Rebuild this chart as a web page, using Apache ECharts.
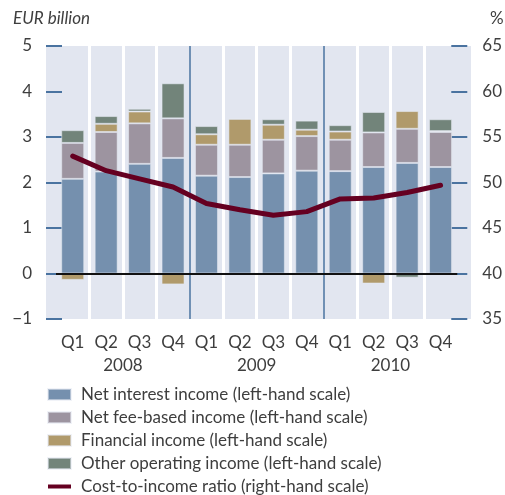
<!DOCTYPE html>
<html>
<head>
<meta charset="utf-8">
<script src="https://cdn.jsdelivr.net/npm/echarts@6/dist/echarts.min.js"></script>
<style>
  html, body { margin: 0; padding: 0; background: #fff; }
  #chart { width: 505px; height: 495px; }
</style>
</head>
<body>
<div id="chart"></div>
<script>
const quarters = ['Q1', 'Q2', 'Q3', 'Q4', 'Q1', 'Q2', 'Q3', 'Q4', 'Q1', 'Q2', 'Q3', 'Q4'];
const years = ['2008', '2009', '2010'];

// EUR billion
const netInterest = [2.08, 2.24, 2.41, 2.54, 2.15, 2.12, 2.20, 2.26, 2.25, 2.34, 2.43, 2.34];
const netFee = [0.79, 0.87, 0.89, 0.87, 0.68, 0.71, 0.74, 0.76, 0.69, 0.76, 0.75, 0.77];
const financial = [-0.14, 0.18, 0.26, -0.24, 0.23, 0.57, 0.33, 0.14, 0.18, -0.22, 0.39, 0.02];
const otherOperating = [0.28, 0.17, 0.06, 0.77, 0.18, 0, 0.12, 0.20, 0.14, 0.45, -0.09, 0.26];
// %
const costIncome = [52.9, 51.3, 50.4, 49.5, 47.7, 47.0, 46.4, 46.8, 48.2, 48.3, 48.9, 49.7];

const names = [
  'Net interest income (left-hand scale)',
  'Net fee-based income (left-hand scale)',
  'Financial income (left-hand scale)',
  'Other operating income (left-hand scale)',
  'Cost-to-income ratio (right-hand scale)'
];

const font = 'Lato';
const axisBlue = '#4a73a0';
const textColor = '#3e3e3e';
const lineColor = '#650021';

const chart = echarts.init(document.getElementById('chart'));

// white separators between quarters, none at the edges or the year boundaries
const quarterLineColors = quarters.map((q, i) => (i === 0 || q === 'Q1') ? 'rgba(0,0,0,0)' : '#ffffff');
quarterLineColors.push('rgba(0,0,0,0)');
const yearLineColors = years.map((y, i) => i === 0 ? 'rgba(0,0,0,0)' : axisBlue);
yearLineColors.push('rgba(0,0,0,0)');

const makeBar = (name, data, color) => ({
  name: name,
  type: 'bar',
  stack: 'income',
  barWidth: 23,
  data: data,
  itemStyle: { color: color, borderColor: 'rgba(230,234,242,0.55)', borderWidth: 1 },
  emphasis: { disabled: true }
});

const option = {
  animation: false,
  textStyle: { fontFamily: font },
  graphic: [
    {
      type: 'rect',
      z: -10,
      shape: { x: 46, y: 46, width: 425, height: 273 },
      style: { fill: '#e2e6f0' }
    },
    {
      type: 'text',
      left: 13,
      top: 10,
      style: { text: 'EUR billion', fontFamily: font, fontStyle: 'italic', fontSize: 17, fill: textColor }
    },
    {
      type: 'text',
      left: 490,
      top: 10,
      style: { text: '%', fontFamily: font, fontSize: 17, fill: textColor }
    }
  ],
  grid: { left: 56, right: 44, top: 46, bottom: 176 },
  legend: {
    orient: 'vertical',
    left: 47,
    top: 386,
    height: 140,
    padding: 0,
    itemWidth: 23,
    itemHeight: 11,
    itemGap: 6,
    selectedMode: false,
    textStyle: { fontFamily: font, fontSize: 17, lineHeight: 17, color: textColor, padding: [0, 0, 0, 5] },
    data: [
      { name: names[0], icon: 'rect' },
      { name: names[1], icon: 'rect' },
      { name: names[2], icon: 'rect' },
      { name: names[3], icon: 'rect' },
      { name: names[4], icon: 'path://M0,0 L0,0 M0,3.5 L23,3.5 L23,7.5 L0,7.5 Z M23,11 L23,11' }
    ]
  },
  xAxis: [
    {
      type: 'category',
      data: quarters,
      position: 'bottom',
      axisLine: { show: false, onZero: false },
      axisTick: { show: false },
      axisLabel: { interval: 0, margin: 15, fontSize: 17, color: textColor, fontFamily: font },
      splitLine: { show: true, interval: 0, lineStyle: { color: quarterLineColors, width: 3 } }
    },
    {
      type: 'category',
      data: years,
      position: 'bottom',
      axisLine: { show: false, onZero: false },
      axisTick: { show: false },
      axisLabel: { interval: 0, margin: 38, fontSize: 17, color: textColor, fontFamily: font },
      splitLine: { show: true, interval: 0, lineStyle: { color: yearLineColors, width: 1.5 } }
    }
  ],
  yAxis: [
    {
      type: 'value',
      min: -1,
      max: 5,
      interval: 1,
      offset: 10,
      axisLine: { show: false },
      axisTick: { show: true, inside: true, length: 16, lineStyle: { color: axisBlue, width: 2 } },
      axisLabel: {
        margin: 14,
        fontSize: 17,
        color: textColor,
        fontFamily: font,
        formatter: v => (v < 0 ? '\u2212' + Math.abs(v) : String(v))
      },
      splitLine: { show: false }
    },
    {
      type: 'value',
      min: 35,
      max: 65,
      interval: 5,
      offset: 10,
      position: 'right',
      axisLine: { show: false },
      axisTick: { show: true, inside: true, length: 16, lineStyle: { color: axisBlue, width: 2 } },
      axisLabel: { margin: 15, fontSize: 17, color: textColor, fontFamily: font },
      splitLine: { show: false }
    }
  ],
  series: [
    makeBar(names[0], netInterest, '#7590ae'),
    makeBar(names[1], netFee, '#9d94a0'),
    makeBar(names[2], financial, '#b09a6b'),
    Object.assign(makeBar(names[3], otherOperating, '#72847a'), {
      markLine: {
        silent: true,
        symbol: 'none',
        label: { show: false },
        lineStyle: { color: '#111111', width: 2, type: 'solid' },
        data: [{ yAxis: 0 }]
      }
    }),
    {
      name: names[4],
      type: 'line',
      yAxisIndex: 1,
      data: costIncome,
      symbol: 'none',
      lineStyle: { color: lineColor, width: 5, cap: 'round', join: 'round' },
      itemStyle: { color: lineColor },
      emphasis: { disabled: true },
      z: 5
    }
  ]
};

chart.setOption(option);
</script>
</body>
</html>
